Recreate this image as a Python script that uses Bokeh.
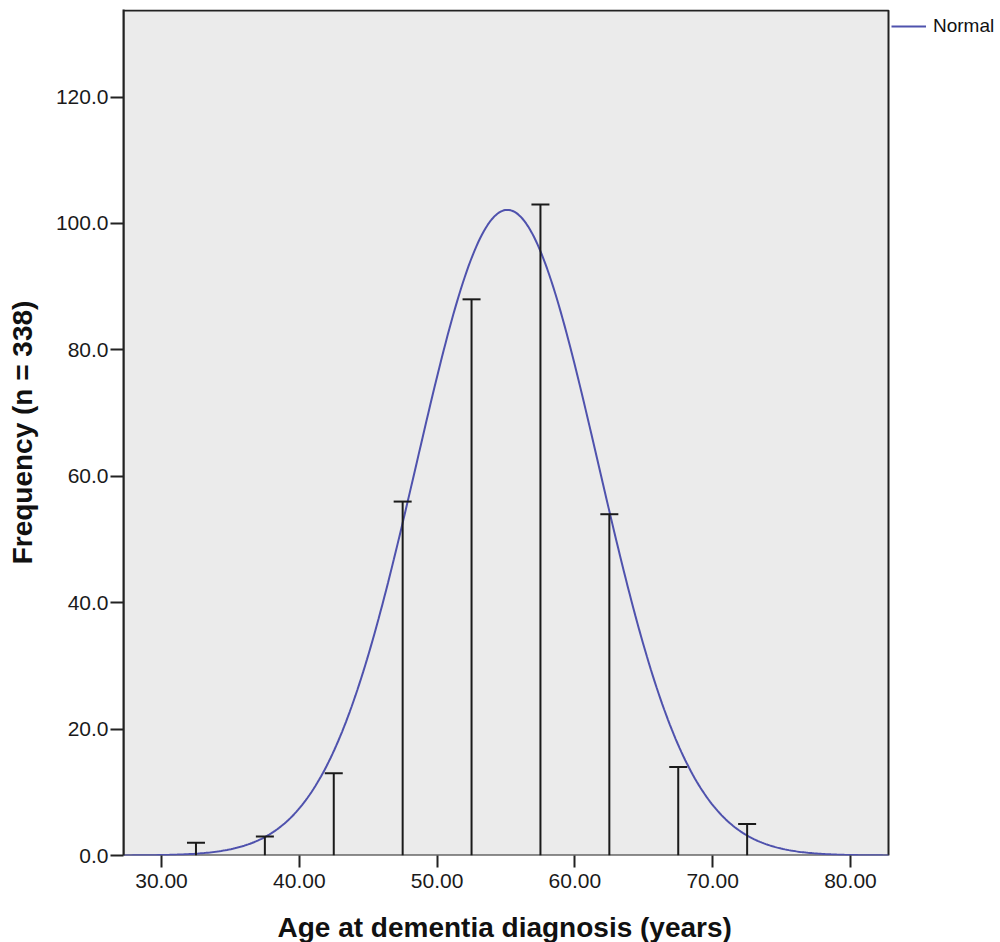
import numpy as np
from bokeh.plotting import figure
from bokeh.models import Range1d, FixedTicker, NumeralTickFormatter, Legend, LegendItem, Title
from bokeh.embed import file_html
from bokeh.resources import INLINE

# Data
bin_centers = [32.5, 37.5, 42.5, 47.5, 52.5, 57.5, 62.5, 67.5, 72.5]
frequencies = [2, 3, 13, 56, 88, 103, 54, 14, 5]
bin_width = 5.0
fit_mean = 55.1
fit_sd = 6.6
x_ticks = [30, 40, 50, 60, 70, 80]
y_ticks = [0, 20, 40, 60, 80, 100, 120]

n = sum(frequencies)

FONT = "Liberation Sans"

W, H = 1000, 942
ML, MR, MT, MB = 123, 0, 9, 85
DATA_W = 765            # pixel width of the grey data area
X0, X1 = 27.24, 82.76   # data extent of the grey area
Y0, Y1 = 0.0, 133.7

frame_w = W - ML - MR
frame_h = H - MT - MB
x_end = X0 + (X1 - X0) * frame_w / DATA_W
y_end = Y1 * frame_h / (frame_h - 1)

p = figure(width=W, height=H, output_backend="svg", toolbar_location=None,
           x_range=Range1d(X0, x_end), y_range=Range1d(Y0, y_end),
           min_border_left=ML, min_border_right=MR, min_border_top=MT, min_border_bottom=MB)

p.background_fill_color = "white"
p.border_fill_color = "white"
p.outline_line_color = None
p.grid.visible = False

# grey plotting area with dark frame
p.quad(left=[X0], right=[X1], bottom=[Y0], top=[Y1],
       fill_color="#EBEBEB", line_color="#222222", line_width=2)

# Normal fit curve
xs = np.linspace(X0, X1, 400)
ys = n * bin_width / (fit_sd * np.sqrt(2 * np.pi)) * np.exp(-0.5 * ((xs - fit_mean) / fit_sd) ** 2)
curve = p.line(xs, ys, line_color="#4F52AD", line_width=2)

# Spikes with caps
p.segment(x0=bin_centers, y0=[0] * len(bin_centers), x1=bin_centers, y1=frequencies,
          line_color="#1a1a1a", line_width=2)
p.scatter(x=bin_centers, y=frequencies, marker="dash", size=18,
          line_color="#1a1a1a", line_width=2)

# Axes
p.xaxis.ticker = FixedTicker(ticks=x_ticks)
p.yaxis.ticker = FixedTicker(ticks=y_ticks)
p.xaxis.formatter = NumeralTickFormatter(format="0.00")
p.yaxis.formatter = NumeralTickFormatter(format="0.0")
for ax in (p.xaxis[0], p.yaxis[0]):
    ax.axis_line_color = "#222222"
    ax.axis_line_width = 2
    ax.major_tick_line_color = "#222222"
    ax.major_tick_line_width = 2
    ax.major_tick_in = 0
    ax.minor_tick_line_color = None
    ax.major_label_text_font = FONT
    ax.major_label_text_font_size = "21px"
    ax.major_label_text_color = "#1a1a1a"
    ax.axis_label_text_font = FONT
    ax.axis_label_text_font_style = "bold"
    ax.axis_label_text_font_size = "28px"
    ax.axis_label_text_color = "#111111"

p.xaxis.axis_line_color = None
p.xaxis.major_tick_out = 12
p.xaxis.major_label_standoff = 6
# blank spacer label to push the title below down a little
p.xaxis.axis_label = " "
p.xaxis.axis_label_text_font_size = "10px"
p.xaxis.axis_label_standoff = 5

p.yaxis.major_tick_out = 13
p.yaxis.major_label_standoff = 2
p.yaxis.axis_label = "Frequency (n = 338)"
p.yaxis.axis_label_standoff = 15

# x-axis title placed under the grey data area (not the wider frame)
x_title_text = "Age at dementia diagnosis (years)"
x_title = Title(text=x_title_text, align="left", offset=154,
                standoff=0, text_font=FONT, text_font_style="bold",
                text_font_size="28px", text_color="#111111")
p.add_layout(x_title, "below")

legend = Legend(items=[LegendItem(label="Normal", renderers=[curve])],
                location=(DATA_W + 3, frame_h - 30), margin=0, padding=2, glyph_width=35,
                glyph_height=20, label_standoff=7, border_line_color=None, background_fill_alpha=0,
                label_text_font=FONT, label_text_font_size="19px", label_text_color="#111111")
p.add_layout(legend)

open("out.html", "w").write(file_html(p, INLINE))
